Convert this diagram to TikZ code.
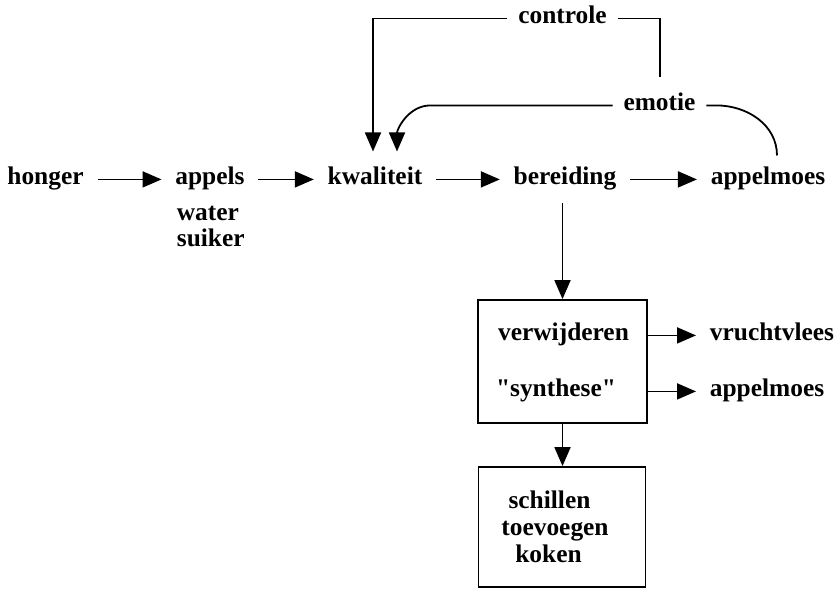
\documentclass[tikz,border=0pt]{standalone}
\usepackage{fontspec}
\setmainfont{Liberation Serif}
\usetikzlibrary{arrows.meta,calc}

\begin{document}
\begin{tikzpicture}[x=0.5pt,y=-0.5pt,>={Triangle[length=9.5pt,width=8pt]},line width=0.9pt,
  lbl/.style={font=\fontsize{12.7}{13.5}\selectfont\bfseries,inner xsep=5pt,inner ysep=3pt,anchor=base},
  blok/.style={draw,minimum width=84.5pt,minimum height=61.5pt,inner sep=0pt},
  flow/.style={->,shorten <=1.5pt,shorten >=1.5pt}]
  \useasboundingbox (0,0) rectangle (835,590);
  % main row
  \node[lbl](hon) at (45.5,184){honger};
  \node[lbl](app) at (210,184){appels};
  \node[lbl,anchor=base west](wat) at (166,220){water};
  \node[lbl,anchor=base west](sui) at (166,246){suiker};
  \node[lbl](kw) at (375,184){kwaliteit};
  \node[lbl](ber) at (565,184){bereiding};
  \node[lbl](am) at (768,184){appelmoes};
  % feedback labels
  \node[lbl](ctl) at (562.5,23){controle};
  \node[lbl](emo) at (659.5,110){emotie};
  % boxes
  \node[blok](b1) at (562.5,361.5){};
  \node[lbl](verw) at (563.5,340){verwijderen};
  \node[lbl](syn) at (556,396){\textquotedbl synthese\textquotedbl};
  \node[lbl,anchor=base west](vv) at (699,340){vruchtvlees};
  \node[lbl,anchor=base west](am2) at (699,396){appelmoes};
  \node[blok,minimum width=83.5pt,minimum height=60pt](b2) at (562,527){};
  \node[lbl](sch) at (549.5,508){schillen};
  \node[lbl](toe) at (555,535){toevoegen};
  \node[lbl](kok) at (548.5,562){koken};

  \draw[flow] (hon.mid east) -- (app.mid west);
  \draw[flow] (app.mid east) -- (kw.mid west);
  \draw[flow] (kw.mid east) -- (ber.mid west);
  \draw[flow] (ber.mid east) -- (am.mid west);
  \draw[->,shorten <=3pt] (b1.north |- ber.south) -- (b1.north);
  \draw[->] (b1.south) -- (b1.south |- b2.north);
  \draw[flow,shorten <=0pt] (b1.east |- vv.mid west) -- (vv.mid west);
  \draw[flow,shorten <=0pt] (b1.east |- am2.mid west) -- (am2.mid west);

  \coordinate (kwL) at ($(kw.north)+(-2,-8)$);
  \coordinate (kwR) at ($(kw.north)+(22,-8)$);
  \coordinate (ctlEnd) at (660,77);
  \draw[->] (ctl.mid west) -| (kwL);
  \draw (ctl.mid east) -| (ctlEnd);
  \draw[->] (emo.mid west) -- ++(-182,0) to[out=180,in=90] (kwR);
  \draw (emo.mid east) -- ++(10,0) to[out=0,in=90] ($(am.north)+(9,-4)$);
\end{tikzpicture}
\end{document}
